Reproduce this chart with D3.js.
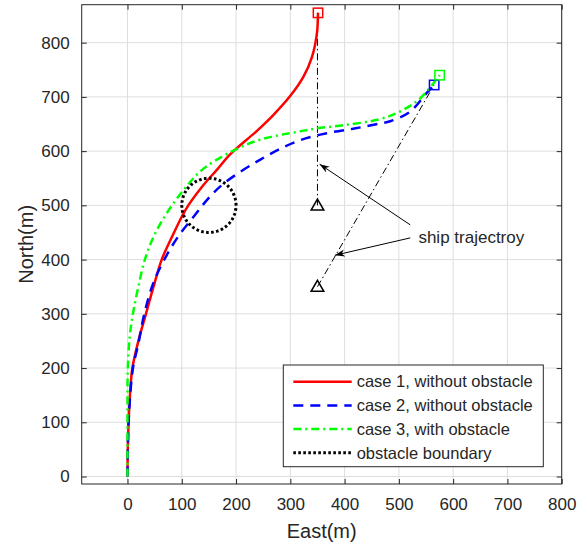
<!DOCTYPE html>
<html>
<head>
<meta charset="utf-8">
<script src="https://cdn.jsdelivr.net/npm/d3@7"></script>
<style>
  body { margin: 0; background: #fff; }
  text { font-family: "Liberation Sans", Arial, Helvetica, sans-serif; fill: #262626; }
</style>
</head>
<body>
<svg id="chart" width="587" height="546"></svg>
<script>
// trajectories, [east, north] in metres
const case1 = [[0,0],[0.5,50],[2,100],[4.5,150],[9,200],[20,250],[34,300],[48,350],[63,400],[82,442],[100,479],
  [112,500],[137,534],[165,566],[189,594],[238,637],[269,667],[300,702],[324,737],[340,774],[349,817],[351,855]];
const case2 = [[0,0],[0.5,50],[2,100],[5,150],[10,200],[20,245],[31,300],[48,358],[70,404],[93,442],[125,483],
  [149,513],[177,540],[244,584],[312,618],[367,633],[420,642],[465,651],[484,655],[521,673],[551,707],[565,722]];
const case3 = [[0,0],[0,140],[0.5,200],[4,257],[10,300],[20,350],[32,400],[48,442],[72,485],[103,528],
  [137,565],[189,598],[244,621],[315,636],[349,642],[400,648],[465,659],[502,673],[539,697],[575,740]];
const obstacle = {cx: 150, cy: 500, r: 50};
const ship1 = [[350,500],[350,855]];
const ship2 = [[350,350],[565,722]];
const legendLabels = ["case 1, without obstacle", "case 2, without obstacle", "case 3, with obstacle", "obstacle boundary"];
const xTicks = [0,100,200,300,400,500,600,700,800];
const yTicks = [0,100,200,300,400,500,600,700,800];
const arrows = [[[521,464],[354,576]], [[521,440],[382,408]]];
const noteText = "ship trajectroy";
const notePos = [536, 442];

const svg = d3.select("#chart");
const mLeft = 81.7, mRight = 561.7, mTop = 4.7, mBottom = 484;

let x = d3.scaleLinear().domain([-84.4, 800]).range([mLeft, mRight]);
let y = d3.scaleLinear().domain([-13.8, 870]).range([mBottom, mTop]);

// grid
let grid = svg.append("g").attr("stroke", "#dedede").attr("stroke-width", 1);
grid.selectAll(".gx").data(xTicks).join("line")
    .attr("x1", d => x(d)).attr("x2", d => x(d)).attr("y1", mTop).attr("y2", mBottom);
grid.selectAll(".gy").data(yTicks).join("line")
    .attr("y1", d => y(d)).attr("y2", d => y(d)).attr("x1", mLeft).attr("x2", mRight);

// axes with inward ticks on all four sides
let tickStyle = g => {
    g.select(".domain").remove();
    g.selectAll(".tick line").attr("stroke", "#262626");
    g.selectAll(".tick text").attr("font-size", 17).attr("fill", "#262626")
        .style("font-family", "'Liberation Sans', Arial, sans-serif");
};
svg.append("g").attr("transform", `translate(0,${mBottom})`)
    .call(d3.axisBottom(x).tickValues(xTicks).tickSize(-5).tickPadding(14))
    .call(tickStyle);
svg.append("g").attr("transform", `translate(0,${mTop})`)
    .call(d3.axisTop(x).tickValues(xTicks).tickSize(-5).tickFormat(""))
    .call(tickStyle);
svg.append("g").attr("transform", `translate(${mLeft},0)`)
    .call(d3.axisLeft(y).tickValues(yTicks).tickSize(-5).tickPadding(12))
    .call(tickStyle);
svg.append("g").attr("transform", `translate(${mRight},0)`)
    .call(d3.axisRight(y).tickValues(yTicks).tickSize(-5).tickFormat(""))
    .call(tickStyle);

let line = d3.line().x(d => x(d[0])).y(d => y(d[1]));
let curve = d3.line().x(d => x(d[0])).y(d => y(d[1])).curve(d3.curveCatmullRom);

let plot = svg.append("g");

// ship trajectories
plot.selectAll(".ship").data([ship1, ship2]).join("path")
    .attr("d", line).attr("fill", "none").attr("stroke", "#000")
    .attr("stroke-width", 1).attr("stroke-dasharray", "7,3,1.5,3");
plot.selectAll(".tri").data([ship1[0], ship2[0]]).join("path")
    .attr("transform", d => `translate(${x(d[0])},${y(d[1]) + 1})`)
    .attr("d", d3.symbol(d3.symbolTriangle, 70))
    .attr("fill", "none").attr("stroke", "#000").attr("stroke-width", 1.5);

// cases
let series = [
    {data: case1, color: "#ff0000", dash: null},
    {data: case2, color: "#0000ff", dash: "10,7"},
    {data: case3, color: "#00ff00", dash: "8,4,2,4"}
];
plot.selectAll(".case").data(series).join("path")
    .attr("d", d => curve(d.data)).attr("fill", "none")
    .attr("stroke", d => d.color).attr("stroke-width", 2.5)
    .attr("stroke-dasharray", d => d.dash);

// obstacle boundary
let circ = d3.range(0, 361, 3).map(a => [obstacle.cx + obstacle.r * Math.cos(a * Math.PI / 180),
                                          obstacle.cy + obstacle.r * Math.sin(a * Math.PI / 180)]);
plot.append("path").attr("d", line(circ)).attr("fill", "none")
    .attr("stroke", "#000").attr("stroke-width", 3).attr("stroke-dasharray", "2.6,2.4");

// end markers
plot.selectAll(".sq").data(series).join("rect")
    .attr("x", d => x(d.data[d.data.length - 1][0]) - 4.7)
    .attr("y", d => y(d.data[d.data.length - 1][1]) - 4.7)
    .attr("width", 9.4).attr("height", 9.4)
    .attr("fill", "none").attr("stroke", d => d.color).attr("stroke-width", 1.5);

// annotation
svg.append("defs").append("marker").attr("id", "head")
    .attr("viewBox", "0 0 10 10").attr("refX", 10).attr("refY", 5)
    .attr("markerWidth", 10).attr("markerHeight", 10).attr("markerUnits", "userSpaceOnUse")
    .attr("orient", "auto")
    .append("path").attr("d", "M0,1.5 L10,5 L0,8.5 L3,5 Z").attr("fill", "#000");
plot.selectAll(".arrow").data(arrows).join("path")
    .attr("d", line).attr("stroke", "#000").attr("stroke-width", 1)
    .attr("marker-end", "url(#head)");
svg.append("text").attr("x", x(notePos[0])).attr("y", y(notePos[1]) + 6)
    .attr("font-size", 17).text(noteText);

// box
svg.append("rect").attr("x", mLeft).attr("y", mTop).attr("width", mRight - mLeft).attr("height", mBottom - mTop)
    .attr("fill", "none").attr("stroke", "#262626").attr("stroke-width", 1);

// legend
let legend = svg.append("g");
legend.append("rect").attr("x", 283.3).attr("y", 365).attr("width", 260).attr("height", 101.7)
    .attr("fill", "#fff").attr("stroke", "#262626").attr("stroke-width", 1);
let legItems = [
    {color: "#ff0000", dash: null, w: 2.5},
    {color: "#0000ff", dash: "10,7", w: 2.5},
    {color: "#00ff00", dash: "8,4,2,4", w: 2.5},
    {color: "#000", dash: "2.6,2.4", w: 3}
];
legItems.forEach((d, i) => {
    let yy = 381.7 + i * 23.7;
    legend.append("line").attr("x1", 293.3).attr("x2", 351.7).attr("y1", yy).attr("y2", yy)
        .attr("stroke", d.color).attr("stroke-width", d.w).attr("stroke-dasharray", d.dash);
    legend.append("text").attr("x", 356.7).attr("y", yy).attr("dy", "0.35em")
        .attr("font-size", 16.5).attr("fill", "#000").text(legendLabels[i]);
});

// axis labels
svg.append("text").attr("x", (mLeft + mRight) / 2).attr("y", 538).attr("text-anchor", "middle")
    .attr("font-size", 20).text("East(m)");
svg.append("text").attr("transform", `translate(33,${(mTop + mBottom) / 2}) rotate(-90)`)
    .attr("text-anchor", "middle").attr("font-size", 20).text("North(m)");
</script>
</body>
</html>
